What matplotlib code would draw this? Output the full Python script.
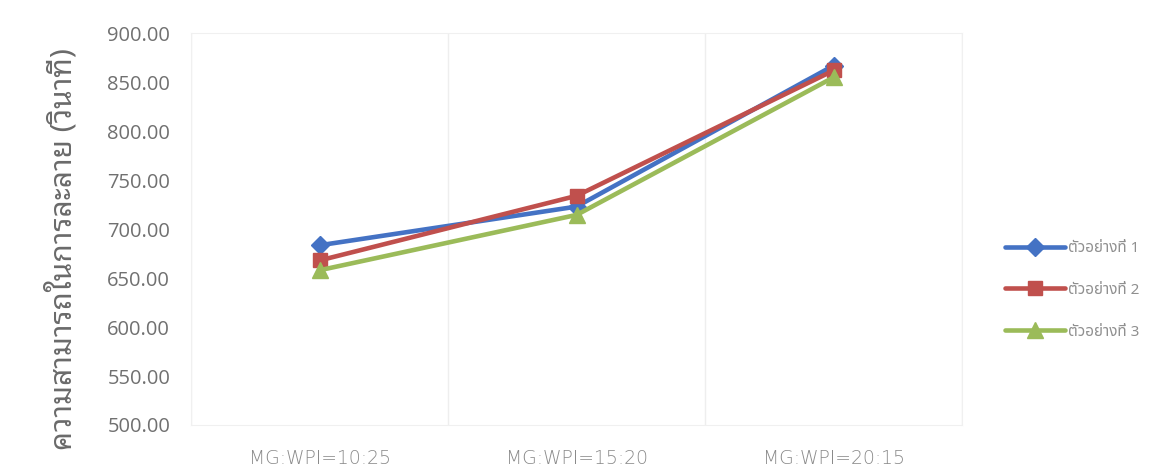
import matplotlib
matplotlib.use("Agg")
import matplotlib.pyplot as plt
from matplotlib.ticker import FormatStrFormatter, FixedLocator

# data
categories = ["MG:WPI=10:25", "MG:WPI=15:20", "MG:WPI=20:15"]
sample1 = [683.5, 723.0, 867.0]
sample2 = [668.0, 734.0, 862.0]
sample3 = [658.0, 714.5, 855.0]
series_names = ["ตัวอย่างที่ 1", "ตัวอย่างที่ 2", "ตัวอย่างที่ 3"]
y_label = "ความสามารถในการละลาย (วินาที)"

colors = ["#4472C4", "#C0504D", "#9BBB59"]
markers = ["D", "s", "^"]
msizes = [9, 10, 11]

fig = plt.figure(figsize=(11.72, 4.72), dpi=100)
ax = fig.add_axes([0.163, 0.0996, 0.658, 0.8300])

x = list(range(len(categories)))
for vals, name, c, m, ms in zip([sample1, sample2, sample3], series_names, colors, markers, msizes):
    ax.plot(x, vals, color=c, lw=3.3, marker=m, markersize=ms,
            markeredgecolor=c, label=name, solid_capstyle="round")

ax.set_xlim(-0.5, 2.5)
ax.set_ylim(500, 900)
ax.set_yticks(range(500, 901, 50))
ax.yaxis.set_major_formatter(FormatStrFormatter("%.2f"))
ax.set_xticks(x)
ax.set_xticklabels(categories)
ax.xaxis.set_minor_locator(FixedLocator([-0.5, 0.5, 1.5, 2.5]))
ax.grid(True, which="minor", axis="x", color="#eeeeee", lw=1)
ax.tick_params(axis="both", which="both", length=0)
ax.tick_params(axis="y", pad=15, labelsize=14.5, labelcolor="#707070")
ax.tick_params(axis="x", pad=17, labelsize=13.5, labelcolor="#8a8a8a")
for lbl in ax.get_yticklabels():
    lbl.set_family("Open Sans")
for lbl in ax.get_xticklabels():
    lbl.set_family("DejaVu Sans")
    lbl.set_fontweight("light")
for sp in ax.spines.values():
    sp.set_color("#f0f0f0")

fig.text(0.053, 0.473, y_label, rotation=90, ha="center", va="center",
         fontsize=21.5, color="#6a6a6a", family=["Noto Sans Thai Looped", "DejaVu Sans"])

leg = fig.legend(loc="center left", bbox_to_anchor=(0.846, 0.385), frameon=False,
                 prop={"family": ["Noto Sans Thai", "DejaVu Sans"], "size": 11},
                 handlelength=3.9, handletextpad=0.2, labelspacing=1.75)
for t in leg.get_texts():
    t.set_color("#8f8f8f")

fig.savefig("out.png", dpi=100)
